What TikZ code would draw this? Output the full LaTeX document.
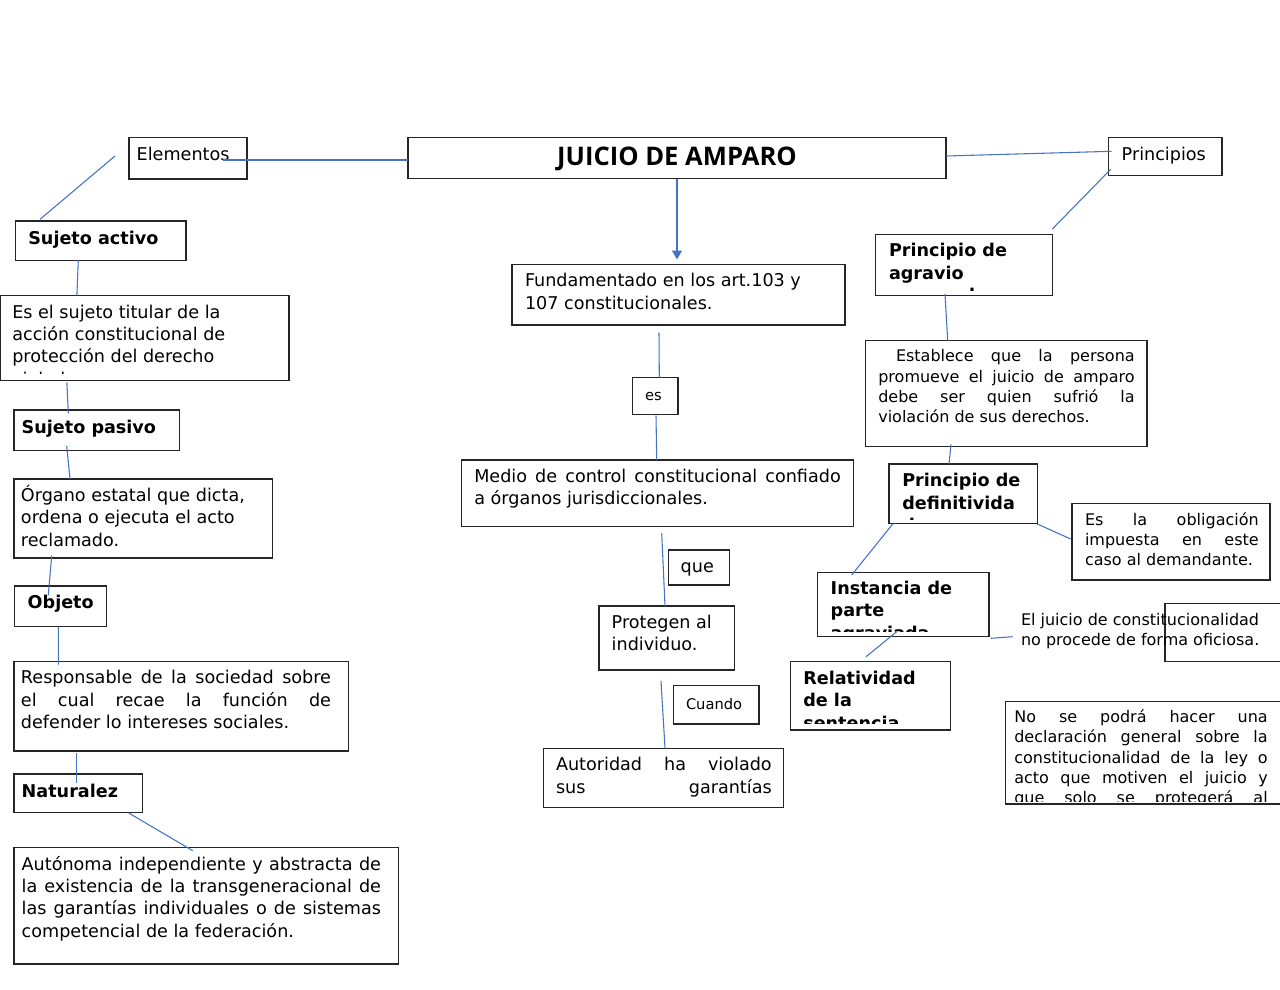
\documentclass[tikz,border=0pt]{standalone}
\usepackage{fontspec}
\setmainfont{DejaVu Sans}
\newfontfamily\titlefont{Open Sans}
\usetikzlibrary{calc,arrows.meta}
\definecolor{conn}{HTML}{4472C4}
\definecolor{edge}{HTML}{262626}
\newdimen\upx \upx=0.75pt
\newcommand\fA{\fontsize{13.2pt}{16.85pt}\selectfont}
\newcommand\fB{\fontsize{12pt}{15.3pt}\selectfont}
\newcommand\fC{\fontsize{11pt}{14pt}\selectfont}
\newcommand\TL[2]{\vtop{#1\let\\\cr\halign{##\hfil\cr#2\crcr}}}
\newcommand\J[2]{\makebox[#1\upx][s]{#2}}
\newcommand\bx[5]{\node[box,minimum width={(#4-#2)*0.75pt},minimum height={(#5-#3)*0.75pt}] (#1) at ({(#2+#4)/2},{(#3+#5)/2}) {};}
\begin{document}
\begin{tikzpicture}[x=0.75pt,y=-0.75pt,
  box/.style={draw=edge,line width=1pt,inner sep=0pt,outer sep=0pt},
  txt/.style={inner sep=0pt,outer sep=0pt,anchor=base west},
  con/.style={draw=conn,line width=0.8pt}]
\useasboundingbox (0,0) rectangle (1280,989);
% boxes
\bx{elem}{129}{137.5}{247}{179}
\bx{juicio}{408}{137.5}{946}{178.5}
\bx{princ}{1108.5}{137.5}{1222}{175.7}
\bx{sa}{15.5}{221}{186}{260.5}
\bx{sad}{0.7}{295.5}{289}{380.5}
\bx{sp}{14}{410}{179.3}{450.5}
\bx{org}{14}{479}{272.3}{558}
\bx{obj}{14.3}{586}{106.7}{626.8}
\bx{resp}{14}{661.3}{348.7}{751}
\bx{nat}{14}{774}{142.7}{812.7}
\bx{aut}{14}{847.7}{398.7}{964}
\bx{fund}{512}{264.5}{845}{325}
\bx{es}{632.7}{377.7}{678}{414.3}
\bx{medio}{461.7}{460}{853.3}{526.7}
\bx{que}{668.3}{550}{729.3}{585}
\bx{prot}{599}{606}{734.3}{670}
\bx{cuando}{673.3}{685.7}{759}{724}
\bx{autor}{543.3}{748.3}{783.3}{807.3}
\bx{agr}{875.7}{234.3}{1052.3}{295.7}
\bx{est}{865.7}{340.7}{1147}{446.7}
\bx{def}{889}{464}{1037.3}{523.3}
\bx{obl}{1072}{503.3}{1270}{580}
\bx{inst}{817.7}{572.3}{989}{636.7}
\bx{rel}{790.7}{661.7}{950.3}{730}
\bx{ofbox}{1165}{603.3}{1290}{661.7}
\bx{nose}{1005.7}{701.5}{1290}{804}
% texts
\node[txt] (telem) at (136.7,160) {\fA Elementos};
\node[inner sep=0pt,anchor=base] (tjuicio) at (677,165) {\titlefont\bfseries\fontsize{19.2pt}{22pt}\selectfont JUICIO DE AMPARO};
\node[txt] (tprinc) at (1121.7,160.7) {\fA Principios};
\node[txt] (tsa) at (28.3,244) {\fA\bfseries Sujeto activo};
\begin{scope}
\clip (1,296) rectangle (289,373.8);
\node[txt] (tsad) at (12.3,318) {\TL{\fA}{Es el sujeto titular de la\\acción constitucional de\\protección del derecho\\violado.}};
\end{scope}
\node[txt] (tsp) at (21.7,433.3) {\fA\bfseries Sujeto pasivo};
\node[txt] (torg) at (21,501.4) {\TL{\fA}{Órgano estatal que dicta,\\ordena o ejecuta el acto\\reclamado.}};
\node[txt] (tobj) at (27.7,608.9) {\fA\bfseries Objeto};
\node[txt] (tresp) at (21,683.9) {\TL{\fA}{\J{310}{Responsable de la sociedad sobre}\\\J{310}{el cual recae la función de}\\defender lo intereses sociales.}};
\node[txt] (tnat) at (21.7,797.4) {\fA\bfseries Naturalez};
\node[txt] (taut) at (21.7,870) {\TL{\fA}{\J{359.3}{Autónoma independiente y abstracta de}\\\J{359.3}{la existencia de la transgeneracional de}\\\J{359.3}{las garantías individuales o de sistemas}\\competencial de la federación.}};
\node[txt] (tfund) at (525,286.7) {\TL{\fA}{Fundamentado en los art.103 y\\107 constitucionales.}};
\node[txt] (tes) at (645,400.7) {\fC es};
\node[txt] (tmedio) at (474.3,482.3) {\TL{\fA}{\J{366.4}{Medio de control constitucional confiado}\\a órganos jurisdiccionales.}};
\node[txt] (tque) at (680.7,572.7) {\fA que};
\node[txt] (tprot) at (611.7,628.3) {\TL{\fA}{Protegen al\\individuo.}};
\node[txt] (tcuando) at (686,709.3) {\fC Cuando};
\node[txt] (tautor) at (556,770.7) {\TL{\fA}{\J{215.7}{Autoridad ha violado}\\\J{215.7}{sus garantías}}};
\begin{scope}
\clip (876,235) rectangle (1052,290.5);
\node[txt] (tagr) at (889,256.7) {\TL{\fA\bfseries}{Principio de\\agravio\\personal}};
\end{scope}
\node[txt] (test) at (878.3,361.7) {\TL{\fB}{\hskip17.7\upx\J{238.7}{Establece que la persona}\\\J{256.4}{promueve el juicio de amparo}\\\J{256.4}{debe ser quien sufrió la}\\violación de sus derechos.}};
\begin{scope}
\clip (889.5,464.5) rectangle (1037,519.5);
\node[txt] (tdef) at (902.3,486.7) {\TL{\fA\bfseries}{Principio de\\definitivida\\d}};
\end{scope}
\node[txt] (tobl) at (1085,525) {\TL{\fB}{\J{173.7}{Es la obligación}\\\J{173.7}{impuesta en este}\\caso al demandante.}};
\begin{scope}
\clip (818,573) rectangle (989,631);
\node[txt] (tinst) at (830.7,594.3) {\TL{\fA\bfseries}{Instancia de\\parte\\agraviada}};
\end{scope}
\begin{scope}
\clip (791,662) rectangle (950,723.5);
\node[txt] (trel) at (803.3,684.3) {\TL{\fA\bfseries}{Relatividad\\de la\\sentencia}};
\end{scope}
\node[txt] (tofic) at (1021,625) {\TL{\fontsize{12pt}{15pt}\selectfont}{El juicio de constitucionalidad\\no procede de forma oficiosa.}};
\begin{scope}
\clip (1006,702) rectangle (1290,801);
\node[txt] (tnose) at (1014.3,722.3) {\TL{\fB}{\J{253.4}{No se podrá hacer una}\\\J{253.4}{declaración general sobre la}\\\J{253.4}{constitucionalidad de la ley o}\\\J{253.4}{acto que motiven el juicio y}\\\J{253.4}{que solo se protegerá al}}};
\end{scope}
% connectors
\draw[con] ($(elem.north west)+(94.3,22.5)$) -- ($(juicio.west)+(0,2)$);
\draw[con] ($(elem.north west)+(-14,18.5)$) -- ($(sa.north west)+(24.5,-1.7)$);
\draw[con] ($(sa.south west)+(62.8,-0.5)$) -- ($(sad.north west)+(76.2,0)$);
\draw[con] ($(sad.south west)+(66.2,1.8)$) -- ($(sp.north west)+(54.3,3.3)$);
\draw[con] ($(sp.south west)+(52.7,-4.5)$) -- ($(org.north west)+(56,0)$);
\draw[con] ($(org.south west)+(37.7,-2.5)$) -- ($(obj.north west)+(34,9.4)$);
\draw[con] ($(obj.south west)+(44,0)$) -- ($(resp.north west)+(44.3,3.4)$);
\draw[con] ($(resp.south west)+(62.7,2.2)$) -- ($(nat.north west)+(62.7,9)$);
\draw[con] ($(nat.south west)+(114.3,0)$) -- ($(aut.north west)+(178.7,3)$);
\draw[con,-{Triangle[width=7.5pt,length=6.5pt]},fill=conn] (juicio.south) -- ($(fund.north)+(-1.5,-5.2)$);
\draw[con] ($(fund.south west)+(147,7.7)$) -- ($(es.north west)+(26.6,0)$);
\draw[con] ($(es.south west)+(23.3,1.4)$) -- ($(medio.north west)+(195,0)$);
\draw[con] ($(medio.south west)+(200,6.6)$) -- ($(prot.north west)+(66,0)$);
\draw[con] ($(prot.south west)+(62,11)$) -- ($(autor.north west)+(121.7,0)$);
\draw[con] ($(juicio.north east)+(0,18.5)$) -- ($(princ.north west)+(3.2,13.8)$);
\draw[con] ($(princ.north west)+(2.2,31.8)$) -- ($(agr.north east)+(0,-5.3)$);
\draw[con] ($(agr.south west)+(69.3,-1.7)$) -- ($(est.north west)+(82,0)$);
\draw[con] ($(est.south west)+(85.3,-2.4)$) -- ($(def.north west)+(60,0)$);
\draw[con] ($(def.south east)+(0,0.7)$) -- ($(obl.north west)+(-1.3,35.7)$);
\draw[con] ($(def.south west)+(3.7,0.7)$) -- ($(inst.north west)+(34,2.7)$);
\draw[con] ($(inst.south west)+(79,-5)$) -- ($(rel.north west)+(75.3,-5)$);
\draw[con] ($(inst.south east)+(1.7,1.6)$) -- ($(tofic.base west)+(-8.3,11.7)$);
\end{tikzpicture}
\end{document}
